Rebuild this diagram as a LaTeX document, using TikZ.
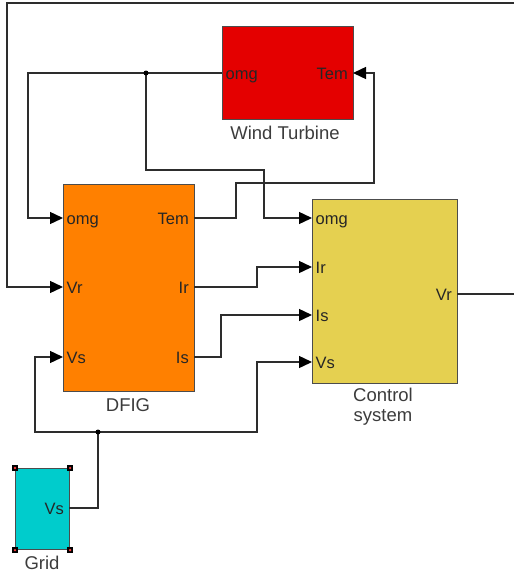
\documentclass[tikz,border=0pt]{standalone}
\usepackage{fontspec}
\setmainfont{Liberation Sans}
\usetikzlibrary{arrows.meta}
\definecolor{wtred}{RGB}{228,0,0}
\definecolor{dfigorange}{RGB}{255,128,0}
\definecolor{ctrlyellow}{RGB}{229,208,80}
\definecolor{gridcyan}{RGB}{0,204,204}
\definecolor{wirecol}{RGB}{45,45,45}
\definecolor{labelcol}{RGB}{60,60,60}
\tikzset{
  blockbox/.style={draw=wirecol!85, line width=1.1pt, anchor=north west, inner sep=0pt},
  wire/.style={draw=wirecol, line width=1.4pt},
  inarrow/.style={wire, -{Triangle[length=13pt,width=12pt,color=black]}},
  portin/.style={anchor=base west, inner sep=0pt, xshift=3.5pt, yshift=-6pt, font=\fontsize{16.5}{18}\selectfont, text=black!85},
  portout/.style={anchor=base east, inner sep=0pt, xshift=-5pt, yshift=-6pt, font=\fontsize{16.5}{18}\selectfont, text=black!85},
  blocklabel/.style={inner sep=0pt, font=\fontsize{18.5}{21}\selectfont, text=labelcol, align=center},
  junction/.style={circle, fill=black, inner sep=0pt, minimum size=5pt},
  handle/.style={fill=black, inner sep=0pt, minimum size=6pt},
}
\begin{document}
\begin{tikzpicture}[x=1pt,y=-1pt]
\useasboundingbox (0,0) rectangle (514,576);
% blocks
\node[blockbox, fill=wtred, minimum width=131pt, minimum height=93pt] (wt) at (222,26) {};
\node[blockbox, fill=dfigorange, minimum width=131pt, minimum height=207pt] (dfig) at (63,184) {};
\node[blockbox, fill=ctrlyellow, minimum width=145pt, minimum height=184pt] (ctrl) at (312,199) {};
\node[blockbox, fill=gridcyan, minimum width=54pt, minimum height=81pt] (grid) at (15,468) {};
% grid selection handles
\foreach \c [count=\i] in {north west, north east, south west, south east} {
  \node[handle] (h\i) at (grid.\c) {};
  \fill[red!75] (h\i.center) circle (1.3pt);
}
% port coordinates
\coordinate (wt-omg) at (222,73);
\coordinate (wt-tem) at (353,73);
\coordinate (dfig-omg) at (63,218);
\coordinate (dfig-vr) at (63,287);
\coordinate (dfig-vs) at (63,357);
\coordinate (dfig-tem) at (194,218);
\coordinate (dfig-ir) at (194,287);
\coordinate (dfig-is) at (194,357);
\coordinate (ctrl-omg) at (312,218);
\coordinate (ctrl-ir) at (312,267);
\coordinate (ctrl-is) at (312,315);
\coordinate (ctrl-vs) at (312,362);
\coordinate (ctrl-vr) at (457,294);
\coordinate (grid-vs) at (69,508);
% port labels
\node[portin] (l-wt-omg) at (wt-omg) {omg};
\node[portout] (l-wt-tem) at (wt-tem) {Tem};
\node[portin] (l-dfig-omg) at (dfig-omg) {omg};
\node[portin] (l-dfig-vr) at (dfig-vr) {Vr};
\node[portin] (l-dfig-vs) at (dfig-vs) {Vs};
\node[portout] (l-dfig-tem) at (dfig-tem) {Tem};
\node[portout] (l-dfig-ir) at (dfig-ir) {Ir};
\node[portout] (l-dfig-is) at (dfig-is) {Is};
\node[portin] (l-ctrl-omg) at (ctrl-omg) {omg};
\node[portin] (l-ctrl-ir) at (ctrl-ir) {Ir};
\node[portin] (l-ctrl-is) at (ctrl-is) {Is};
\node[portin] (l-ctrl-vs) at (ctrl-vs) {Vs};
\node[portout] (l-ctrl-vr) at (ctrl-vr) {Vr};
\node[portout] (l-grid-vs) at (grid-vs) {Vs};
% block labels
\node[blocklabel] (t-wt) at (285,133) {Wind Turbine};
\node[blocklabel] (t-dfig) at (128,405) {DFIG};
\node[blocklabel, font=\fontsize{18.5}{20}\selectfont] (t-ctrl) at (383,407) {Control\\system};
\node[blocklabel] (t-grid) at (42,563) {Grid};
% junctions
\coordinate (j1) at (146,73);
\coordinate (j2) at (98,432);
% wires
\draw[inarrow] (wt-omg) -- (28,73) |- (dfig-omg);
\draw[inarrow] (j1) |- (264,170) |- (ctrl-omg);
\draw[inarrow] (dfig-tem) -| (236,183) -| (374,73) -- (wt-tem);
\draw[inarrow] (dfig-ir) -| (257,267) -- (ctrl-ir);
\draw[inarrow] (dfig-is) -| (221,315) -- (ctrl-is);
\draw[wire] (grid-vs) -| (j2);
\draw[inarrow] (j2) -| (35,357) -- (dfig-vs);
\draw[inarrow] (j2) -| (257,362) -- (ctrl-vs);
\begin{scope}
\clip (0,0) rectangle (514,576);
\draw[inarrow] (ctrl-vr) -| (530,3) -| (7,287) -- (dfig-vr);
\end{scope}
\node[junction] at (j1) {};
\node[junction] at (j2) {};
\end{tikzpicture}
\end{document}
